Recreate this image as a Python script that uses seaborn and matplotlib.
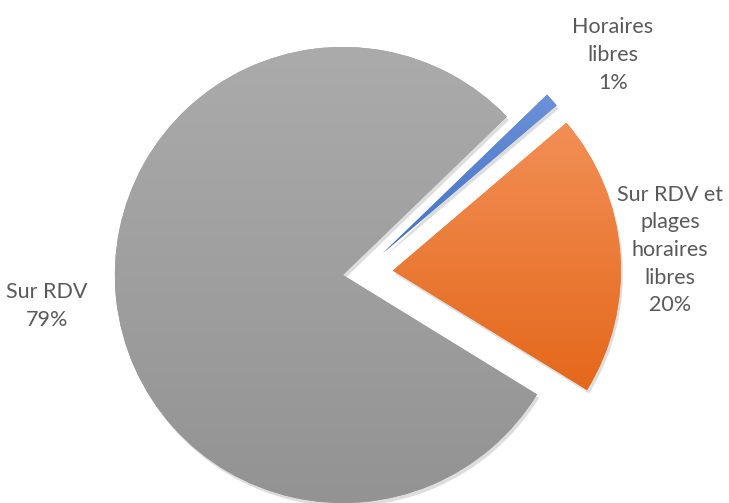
import numpy as np
import seaborn as sns
import matplotlib.pyplot as plt
from matplotlib import patheffects
from matplotlib.colors import LinearSegmentedColormap

# data
categories = ["Horaires\nlibres", "Sur RDV et\nplages\nhoraires\nlibres", "Sur RDV"]
shares = [1, 20, 79]
explode = [0.13, 0.14, 0.08]
top_colors = ["#6B91D9", "#F28F56", "#ABABAB"]
bottom_colors = ["#4472C4", "#E4681A", "#939393"]
label_pos = [(1.105, 0.956), (1.355, 0.101), (-1.377, -0.145)]

sns.set_theme(style="white")
plt.rcParams['font.family'] = ['Lato', 'DejaVu Sans']

fig = plt.figure(figsize=(7.29, 5.03), dpi=100)
ax = fig.add_axes([0, 0, 1, 1])

lbls = [f"{c}\n{v}%" for c, v in zip(categories, shares)]
wedges, texts = ax.pie(shares, explode=explode, labels=lbls, startangle=44,
                       counterclock=False, colors=bottom_colors, radius=1,
                       wedgeprops=dict(linewidth=0),
                       textprops=dict(color="#595959", fontsize=15.5, linespacing=1.48))

shadow = [patheffects.SimplePatchShadow(offset=(1.5, -2.5), alpha=0.2, shadow_rgbFace="#555555"),
          patheffects.Normal()]

# vertical gradient inside each slice
grad = np.linspace(0, 1, 256).reshape(-1, 1)
for w, c0, c1 in zip(wedges, top_colors, bottom_colors):
    w.set_path_effects(shadow)
    x0, y0, x1, y1 = w.get_path().get_extents().extents
    cmap = LinearSegmentedColormap.from_list("g", [c0, c1])
    im = ax.imshow(grad, cmap=cmap, extent=(x0, x1, y0, y1), origin="upper",
                   aspect="auto", zorder=w.get_zorder() + 0.1, interpolation="bilinear")
    im.set_clip_path(w)

for t, p in zip(texts, label_pos):
    t.set_position(p)
    t.set_ha("center")
    t.set_va("center")
    t.set_multialignment("center")

r_px = 228
cx, cy = 361, 273
ax.set_xlim(-cx / r_px, (729 - cx) / r_px)
ax.set_ylim(-(503 - cy) / r_px, cy / r_px)
ax.set_aspect("equal")
ax.set_axis_off()

fig.savefig("out.png", dpi=100)
